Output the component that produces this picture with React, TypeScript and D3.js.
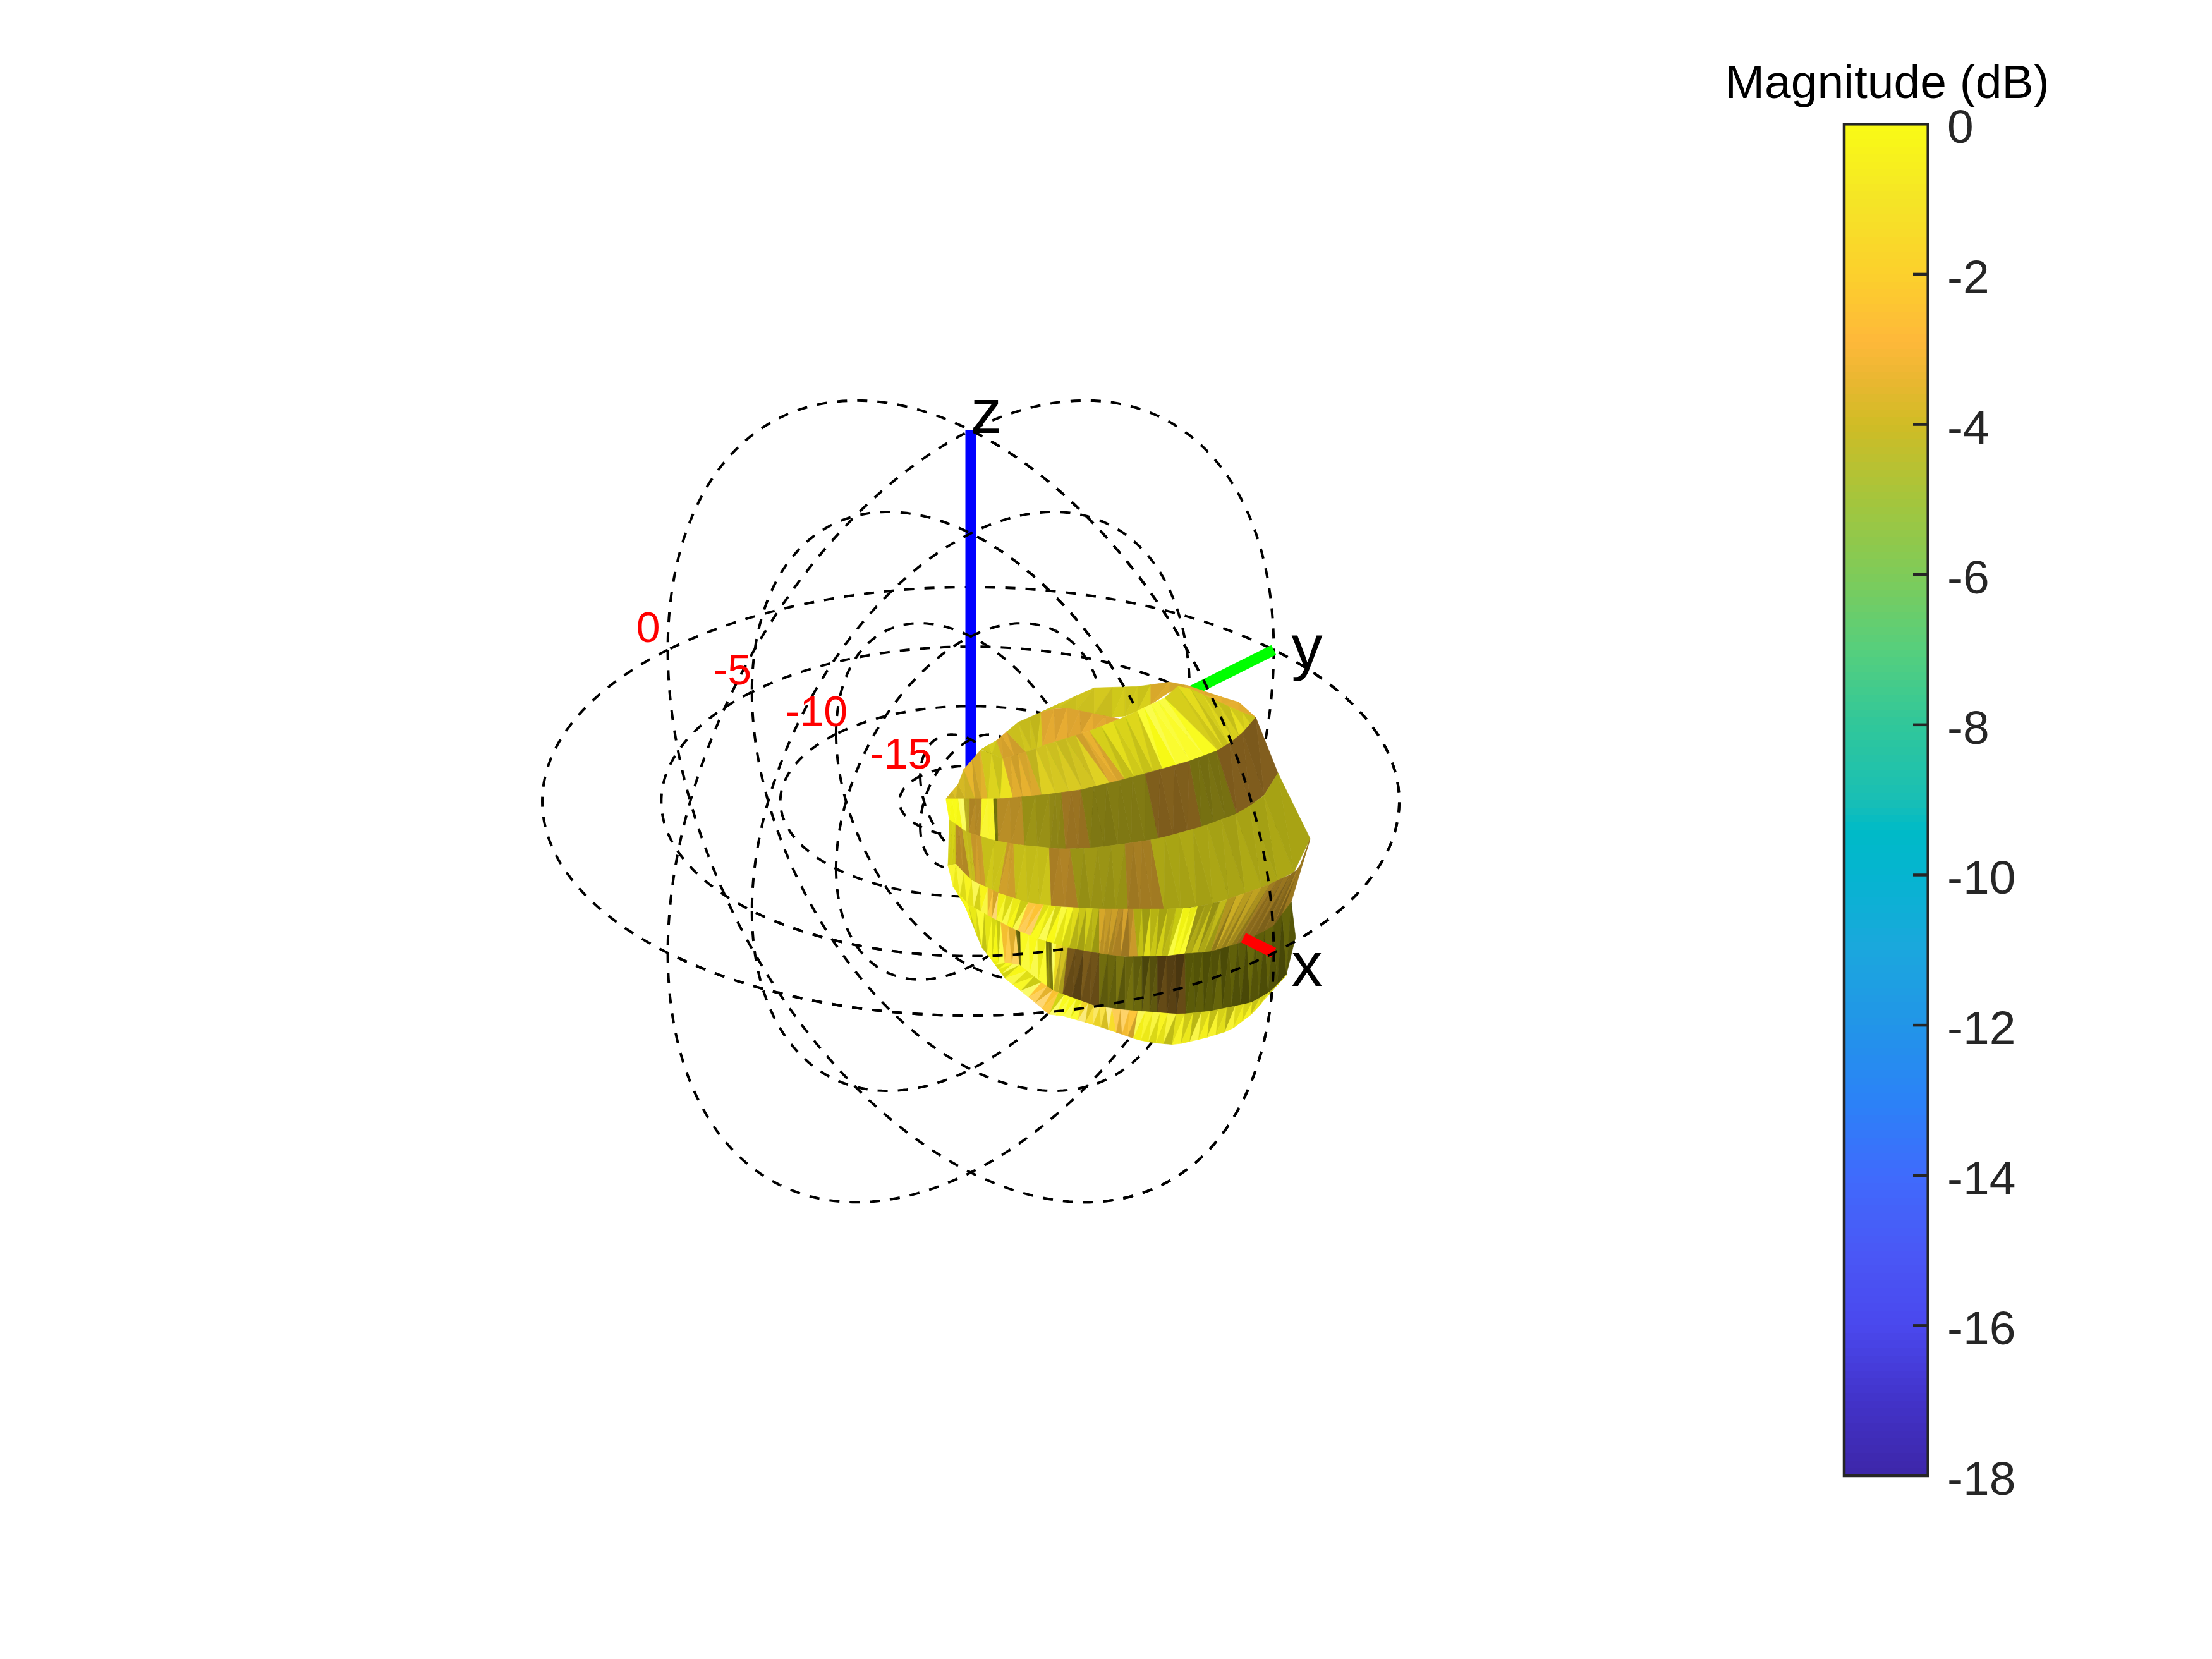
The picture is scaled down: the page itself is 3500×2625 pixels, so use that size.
import React from 'react';
import * as d3 from 'd3';

// ---- chart data ----
const gridLevels: number[] = [0, -5, -10, -15];
const gridPlanes: string[] = ['xy', 'xz', 'yz'];

// dashed arcs that sit in front of the pattern
const topArcPlane: string[] = ['xy', 'xz', 'xy', 'xz'];
const topArcLevel: number[] = [0, 0, -5, -5];
const topArcFrom: number[] = [-90, -70, -90, 42];
const topArcTo: number[] = [90, 90, -26.5, 90];

const barTicks: number[] = [0, -2, -4, -6, -8, -10, -12, -14, -16, -18];
const barStopDb: number[] = [0, -1, -2, -2.9, -3.5, -4, -5, -6, -7, -8, -9, -9.4, -10, -11, -12, -13, -14, -15, -16, -17, -18];
const barStopColor: string[] = ['#f9fb15', '#f5e526', '#fcd02c', '#feb83a', '#e6b72f', '#d0bc25', '#a5c53c', '#7fcb58', '#56cf7d', '#30c79a', '#19bfb5', '#00bac7', '#05b5d0', '#1ba7dd', '#2295e8', '#2b82f7', '#3f6bfc', '#4a58f6', '#4a48ee', '#4233c9', '#3d26a8'];

// outline of the pattern rings, read in the view plane (1 = 0 dB radius)
const ringU: number[][] = [
  [-.058, -.024, -.016, .024, .060, .109, .164, .286, .389, .475, .507, .571, .630, .650, .665],
  [-.058, -.024, -.016, .024, .060, .109, .164, .212, .345, .389, .453, .475, .507, .571, .625, .665],
  [-.058, -.024, -.016, .024, .075, .128, .168, .271, .350, .389, .453, .475, .507, .571, .625, .665],
  [-.058, .065, .168, .257, .360, .507, .577, .625, .665],
  [-.050, -.009, .065, .127, .212, .279, .360, .438, .540, .621, .680, .717],
  [-.053, -.035, -.001, .065, .134, .208, .301, .453, .510, .577, .684, .748, .773, .792],
  [-.041, -.009, .065, .106, .176, .227, .311, .360, .459, .503, .556, .630, .704, .748],
  [-.009, .024, .050, .114, .161, .193, .291, .360, .488, .556, .655, .704, .736, .758],
  [-.009, .024, .050, .080, .134, .183, .217, .296, .389, .423, .478, .547, .606, .659, .704, .736, .758],
];
const ringV: number[][] = [
  [.006, .046, .075, .121, .142, .184, .208, .265, .268, .280, .270, .248, .230, .218, .196],
  [.006, .046, .075, .121, .142, .184, .208, .220, .193, .211, .242, .270, .265, .236, .211, .196],
  [.006, .046, .075, .121, .100, .115, .130, .162, .193, .211, .242, .270, .265, .236, .211, .196],
  [.006, .006, .015, .027, .052, .093, .119, .149, .196],
  [-.043, -.072, -.094, -.103, -.111, -.109, -.099, -.087, -.059, -.029, .007, .066],
  [-.150, -.146, -.183, -.214, -.237, -.246, -.251, -.251, -.249, -.236, -.199, -.170, -.150, -.087],
  [-.199, -.239, -.280, -.301, -.327, -.342, -.357, -.363, -.361, -.355, -.352, -.330, -.294, -.235],
  [-.251, -.338, -.372, -.382, -.420, -.442, -.478, -.487, -.497, -.490, -.470, -.441, -.406, -.317],
  [-.251, -.338, -.372, -.413, -.456, -.497, -.501, -.524, -.556, -.563, -.568, -.552, -.534, -.494, -.441, -.406, -.317],
];

// colour blocks of each band between two rings: edges on upper and lower ring, magnitude, shading
const blockTop: number[][] = [
  [.164, .33, .42, .507, .665],
  [.024, .060, .084, .164, .345],
  [-.057, -.016, .023, .075, .129, .245, .277, .389, .453, .665],
  [-.058, -.029, -.016, -.002, .026, .053, .062, .119, .183, .212, .257, .407, .510, .574, .665],
  [-.050, -.035, -.02, .0, .025, .085, .10, .183, .232, .36, .42, .717],
  [-.053, .04, .065, .134, .17, .24, .30, .345, .38, .48, .53, .60, .70, .792],
  [-.041, .05, .07, .106, .116, .176, .189, .20, .227, .30, .40, .436, .50, .748],
  [.05, .114, .165, .205, .26, .33, .39, .46, .736],
];
const blockBottom: number[][] = [
  [.164, .33, .42, .507, .665],
  [.024, .075, .128, .168, .345],
  [-.057, .010, .040, .099, .166, .325, .360, .448, .577, .665],
  [-.050, -.019, -.009, -.004, .023, .058, .064, .126, .186, .222, .279, .438, .539, .621, .717],
  [-.053, -.035, -.001, .012, .035, .065, .105, .188, .251, .367, .451, .792],
  [-.041, .04, .06, .11, .14, .23, .30, .33, .39, .46, .50, .56, .62, .748],
  [-.009, .05, .08, .114, .118, .178, .193, .193, .215, .30, .40, .436, .502, .758],
  [.05, .08, .135, .183, .25, .34, .38, .45, .736],
];
const blockDb: number[][] = [
  [-.9, -.6, -2.4, -2.6],
  [-.7, -2.6, -.8, -2.7],
  [-1.6, -2.3, -.7, -2.5, -1, -2.6, -.5, 0, -.6],
  [0, 0, -1, -2.6, -.3, 0, -2.5, -.8, -1, -2.7, -.9, -2.8, -.9, -2.9],
  [-.3, -2.6, -.8, -2.6, -.6, -2.5, -.6, -2.7, -.7, -2.6, -.5],
  [-.3, -2.4, -.2, -2.5, -.1, -.4, -2.4, -2.6, -.3, 0, -.6, -1.8, -2.5],
  [-.1, 0, -2.4, -.3, -.1, -.3, 0, -1.2, -2.8, -.6, -1, -2.8, -.2],
  [0, -.2, -2.4, 0, -1.4, -2.5, -.3, -.4],
];
const blockGain: number[][] = [
  [.84, .84, .86, .9],
  [.85, .85, .82, .88],
  [.85, .85, .88, .86, .85, .88, .85, 1.08, .86],
  [1, 1.2, .75, .7, 1.05, .45, .72, .62, .58, .6, .52, .5, .48, .5],
  [.85, .72, .8, .8, .82, .8, .8, .68, .62, .64, .68],
  [1, 1, 1, 1.05, 1, .76, .74, .72, .76, .98, .7, .68, .55],
  [.92, .95, 1, .45, 1.05, .5, 1.1, .8, .42, .42, .36, .35, .35],
  [1, 1, 1.05, 1.05, 1.05, 1.02, 1, .92],
];
const bandStreak: number[] = [.18, .25, .4, .14, .16, .9, .9, 1];
const bandFacetWidth: number[] = [30, 24, 22, 26, 26, 15, 15, 14];
const streakPattern: number[] = [1.06, .95, 1.1, .88, 1.02, .92, 1.18, .84, 1.0, 1.12, .9, 1.04, .82, 1.22, .96, 1.08, .86, 1.14, .94, 1.0, .8, 1.16, .98];

// ---- layout ----
const width = 3500;
const height = 2625;

// view: azimuth 45, elevation 30
const xScale = d3.scaleLinear().domain([0, 1]).range([1536, 1536 + 678]);
const yScale = d3.scaleLinear().domain([0, 1]).range([1268, 1268 - 678]);
const radius = d3.scaleLinear().domain([-18, 0]).range([0, 1]);
const barY = d3.scaleLinear().domain([0, -18]).range([196.3, 2335]);
const magColor = d3.scaleLinear<string>().domain(barStopDb).range(barStopColor).interpolate(d3.interpolateRgb);

const project = (x: number, y: number, z: number): [number, number] => [
  xScale(Math.SQRT1_2 * (x + y)),
  yScale(Math.sqrt(3) / 2 * z + 0.5 * Math.SQRT1_2 * (y - x)),
];
const depth = (x: number, y: number, z: number) => 0.612 * x - 0.612 * y + 0.5 * z;

const ringPoint = (plane: string, level: number, t: number): [number, number, number] => {
  const r = radius(level);
  const c = r * Math.cos(t * Math.PI / 180);
  const s = r * Math.sin(t * Math.PI / 180);
  if (plane === 'xy') return [c, s, 0];
  if (plane === 'xz') return [c, 0, s];
  return [0, c, s];
};

// one sub arc of a ring, keeps the dash phase of the whole ring
const arcProps = (plane: string, level: number, from: number, to: number) => {
  const line = d3.line();
  let offset = 0;
  let last = project(...ringPoint(plane, level, -180));
  for (let t = -180; t < from; t += 1) {
    const p = project(...ringPoint(plane, level, Math.min(t + 1, from)));
    offset += Math.hypot(p[0] - last[0], p[1] - last[1]);
    last = p;
  }
  const pts = d3.range(from, to, 1).concat([to]).map(t => project(...ringPoint(plane, level, t)));
  return { d: line(pts) as string, strokeDashoffset: offset };
};

const backArcs: any[] = [];
const frontArcs: any[] = [];
gridLevels.forEach(level => gridPlanes.forEach(plane => {
  let start = -180;
  let sign = depth(...ringPoint(plane, level, -180)) >= 0;
  for (let t = -179; t <= 180; t += 1) {
    const s = depth(...ringPoint(plane, level, t)) >= 0;
    if (s !== sign || t === 180) {
      (sign ? frontArcs : backArcs).push(arcProps(plane, level, start, t));
      start = t;
      sign = s;
    }
  }
}));
const topArcs = topArcPlane.map((plane, i) => arcProps(plane, topArcLevel[i], topArcFrom[i], topArcTo[i]));

const shade = (db: number, g: number) => {
  const c = d3.rgb(magColor(db));
  if (g <= 1) return d3.rgb(c.r * g, c.g * g, c.b * g).formatHex();
  const w = Math.min(1, (g - 1) * 1.6);
  return d3.rgb(c.r + (255 - c.r) * w, c.g + (255 - c.g) * w, c.b + (255 - c.b) * w).formatHex();
};

// pattern facets: each block is cut in thin triangles, like the mesh of the surface
const facets: { points: string; fill: string }[] = [];
blockTop.forEach((tops, k) => {
  const upper = d3.scaleLinear().domain(ringU[k]).range(ringV[k]).clamp(true);
  const lower = d3.scaleLinear().domain(ringU[k + 1]).range(ringV[k + 1]).clamp(true);
  let n = 0;
  d3.range(tops.length - 1).forEach(j => {
    const bots = blockBottom[k];
    const strips = Math.max(2, Math.ceil(Math.max(tops[j + 1] - tops[j], bots[j + 1] - bots[j]) * 678 / bandFacetWidth[k]));
    const tu = d3.scaleLinear().domain([0, strips]).range([tops[j], tops[j + 1]]);
    const bu = d3.scaleLinear().domain([0, strips]).range([bots[j], bots[j + 1]]);
    const pt = (u: number, v: number) => `${xScale(u).toFixed(1)},${yScale(v).toFixed(1)}`;
    const fill = () => {
      const p = streakPattern[n++ % streakPattern.length];
      return shade(blockDb[k][j], blockGain[k][j] * (1 + (p - 1) * bandStreak[k]));
    };
    d3.range(strips).forEach(i => {
      const a = pt(tu(i), upper(tu(i)));
      const b = pt(tu(i + 1), upper(tu(i + 1)));
      const c = pt(bu(i + 1), lower(bu(i + 1)));
      const d = pt(bu(i), lower(bu(i)));
      facets.push({ points: `${a} ${b} ${d}`, fill: fill() });
      facets.push({ points: `${b} ${c} ${d}`, fill: fill() });
    });
  });
});

const dashStyle = { fill: 'none', stroke: '#000', strokeWidth: 4, strokeDasharray: '16 16' };
const sans = '"Liberation Sans", Arial, sans-serif';

const axisLine = (tip: [number, number, number], from: number, color: string) => {
  const a = project(tip[0] * from, tip[1] * from, tip[2] * from);
  const b = project(...tip);
  return <line x1={a[0]} y1={a[1]} x2={b[0]} y2={b[1]} stroke={color} strokeWidth={17} />;
};

export default function App() {
  const barRows = d3.range(0, -18, -0.1);
  const xTip = project(1, 0, 0);
  const yTip = project(0, 1, 0);
  const zTip = project(0, 0, 1);
  return (
    <svg width={width} height={height} viewBox={`0 0 ${width} ${height}`}
      style={{ position: 'absolute', left: 0, top: 0, background: '#fff' }}>
      <g>{backArcs.map((a, i) => <path key={i} {...a} {...dashStyle} />)}</g>
      {axisLine([0, 0, 1], 0, '#0000ff')}
      {axisLine([0, 1, 0], 0, '#00ff00')}
      <g>{frontArcs.map((a, i) => <path key={i} {...a} {...dashStyle} />)}</g>
      <g>
        {facets.map((f, i) => <polygon key={i} points={f.points} fill={f.fill} stroke={f.fill} strokeWidth={0.7} />)}
      </g>
      {axisLine([1, 0, 0], 0.9, '#ff0000')}
      <g>{topArcs.map((a, i) => <path key={i} {...a} {...dashStyle} />)}</g>

      <g fontFamily={sans} fontSize={98} fill="#000">
        <text x={xTip[0] + 28} y={xTip[1] + 52}>x</text>
        <text x={yTip[0] + 28} y={yTip[1] + 30}>y</text>
        <text x={zTip[0]} y={zTip[1] + 4}>z</text>
      </g>
      <g fontFamily={sans} fontSize={68} fill="#ff0000" textAnchor="middle">
        {gridLevels.map(level => {
          const p = project(-radius(level), 0, 0);
          return <text key={level} x={p[0] - 31} y={p[1] - 36 + 24}>{level}</text>;
        })}
      </g>

      {/* colorbar */}
      <g shapeRendering="crispEdges">
        {barRows.map(db => (
          <rect key={db} x={2918} y={barY(db)} width={133} height={barY(db - 0.1) - barY(db) + 1} fill={magColor(db - 0.05)} />
        ))}
      </g>
      <rect x={2918} y={196.3} width={132.7} height={2138.7} fill="none" stroke="#262626" strokeWidth={4.5} />
      {barTicks.map(t => (
        <g key={t}>
          {t !== 0 && t !== -18 && <line x1={3027} x2={3050} y1={barY(t)} y2={barY(t)} stroke="#262626" strokeWidth={4.5} />}
          <text x={3081} y={barY(t) + 30} fontFamily={sans} fontSize={75} fill="#262626">{t}</text>
        </g>
      ))}
      <text x={2986} y={155} fontFamily={sans} fontSize={75} fill="#000" textAnchor="middle">Magnitude (dB)</text>
    </svg>
  );
}
